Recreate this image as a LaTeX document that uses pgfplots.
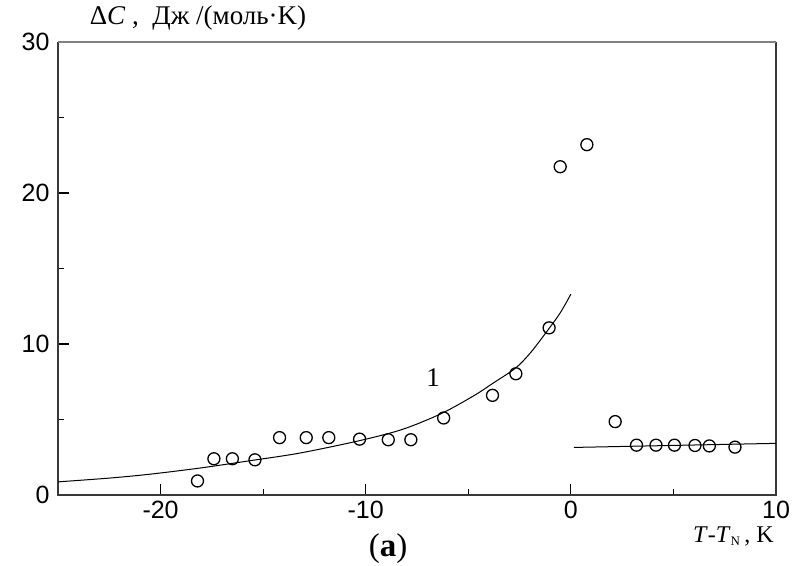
\documentclass[border=0pt]{standalone}
\usepackage{fontspec}
\setmainfont{Liberation Serif}
\newfontfamily\arial{Liberation Sans}
\usepackage{pgfplots}
\pgfplotsset{compat=1.18}
\begin{document}
\begin{tikzpicture}
\begin{axis}[name=ax, at={(0,0)}, anchor=south west,
 scale only axis, width=718pt, height=453pt,
 xmin=-25, xmax=10, ymin=0, ymax=30,
 axis line style={draw=none},
 tick align=inside, tick pos=left,
 xtick={-20,-10,0,10}, xticklabels={-20,-10,0,10},
 minor xtick={-15,-5,5},
 ytick={0,10,20,30}, yticklabels={0,10,20,30},
 minor ytick={5,15,25},
 major tick length=11pt, minor tick length=6pt,
 every tick/.style={black, line width=1.2pt},
 ticklabel style={font=\arial\fontsize{25}{27}\selectfont},
 xticklabel style={yshift=-3pt},
 yticklabel style={xshift=-5pt},
 clip=false,
]
\draw[black!78, line width=1.8pt] (rel axis cs:0,1) -- (rel axis cs:0,0) -- (rel axis cs:1,0) -- (rel axis cs:1,1);
\draw[black!50, line width=1.8pt] (rel axis cs:0,1) -- (rel axis cs:1,1);
% fitted curve 1
\addplot[black, line width=1pt, smooth, no marks] coordinates {
(-25,0.87) (-22.5,1.12) (-20.5,1.38) (-18,1.8) (-15.5,2.3) (-13.2,2.78)
(-10.3,3.6) (-8.2,4.35) (-6.3,5.4) (-4.7,6.6) (-3.8,7.4) (-2.7,8.4)
(-1.95,9.45) (-1.05,11.05) (-0.5,12.1) (0,13.3)};
% line above T_N
\addplot[black, line width=1pt, no marks] coordinates {(0.15,3.15) (10,3.42)};
% experimental points
\addplot[only marks, mark=o, mark size=6pt, mark options={line width=1.3pt, black}] coordinates {
(-18.2,0.93) (-17.4,2.4) (-16.5,2.4) (-15.4,2.33) (-14.2,3.8) (-12.9,3.8)
(-11.8,3.8) (-10.3,3.7) (-8.9,3.66) (-7.8,3.66) (-6.2,5.1) (-3.82,6.6)
(-2.68,8.03) (-1.06,11.07) (-0.52,21.74) (0.78,23.2)
(2.16,4.86) (3.2,3.3) (4.15,3.3) (5.05,3.3) (6.05,3.28) (6.75,3.25) (8.0,3.17)};
\end{axis}
\node[font=\fontsize{27}{29}\selectfont] at (140pt,477pt) {Δ\textit{C} ,\ \ Дж /(моль·K)};
\node[font=\fontsize{27}{29}\selectfont] at (375pt,117pt) {1};
\node[font=\fontsize{24}{26}\selectfont, anchor=base east, inner sep=0pt] at (716pt,-47pt) {\textit{T}-\textit{T}\textsubscript{\fontsize{13}{13}\selectfont N}\,, K};
\node[font=\fontsize{33}{35}\selectfont, anchor=base, inner sep=0pt] at (330pt,-61pt) {(\textbf{a})};
\pgfresetboundingbox
\path (-58pt,-70pt) rectangle (745pt,495pt);
\end{tikzpicture}
\end{document}
